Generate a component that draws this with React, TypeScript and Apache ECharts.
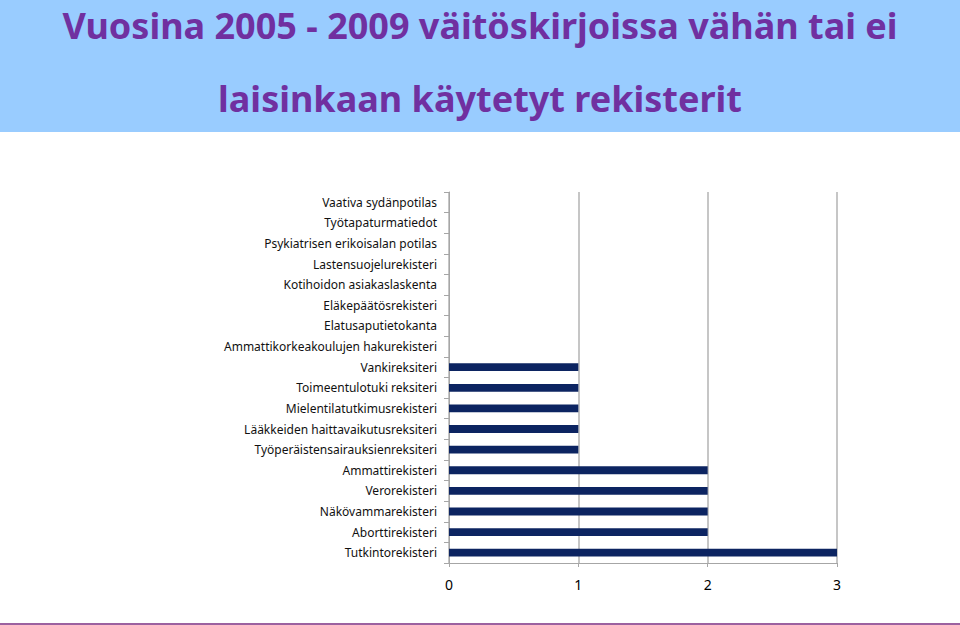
import React, { useEffect, useRef } from 'react';
import * as echarts from 'echarts';

// Categories listed top to bottom, as in the picture
const categories = [
    'Vaativa sydänpotilas',
    'Työtapaturmatiedot',
    'Psykiatrisen erikoisalan potilas',
    'Lastensuojelurekisteri',
    'Kotihoidon asiakaslaskenta',
    'Eläkepäätösrekisteri',
    'Elatusaputietokanta',
    'Ammattikorkeakoulujen hakurekisteri',
    'Vankireksiteri',
    'Toimeentulotuki reksiteri',
    'Mielentilatutkimusrekisteri',
    'Lääkkeiden haittavaikutusreksiteri',
    'Työperäistensairauksienreksiteri',
    'Ammattirekisteri',
    'Verorekisteri',
    'Näkövammarekisteri',
    'Aborttirekisteri',
    'Tutkintorekisteri'
];

const counts = [0, 0, 0, 0, 0, 0, 0, 0, 1, 1, 1, 1, 1, 2, 2, 2, 2, 3];

const titleLines = ['Vuosina 2005 - 2009 väitöskirjoissa vähän tai ei', 'laisinkaan käytetyt rekisterit'];

const App: React.FC = () => {
    const chartRef = useRef<HTMLDivElement>(null);

    useEffect(() => {
        if (!chartRef.current) return;
        const chart = echarts.init(chartRef.current, undefined, { renderer: 'svg' });

        const purple = '#7030A0';
        const titleStyle = {
            textAlign: 'center',
            textVerticalAlign: 'middle',
            fill: purple,
            fontFamily: 'Noto Sans',
            fontWeight: 'bold',
            fontSize: 36,
            lineHeight: 38
        };

        chart.setOption({
            animation: false,
            backgroundColor: '#ffffff',
            textStyle: { fontFamily: 'Noto Sans' },
            graphic: [
                {
                    type: 'rect',
                    shape: { x: 0, y: 0, width: 960, height: 132 },
                    style: { fill: '#99CCFF' },
                    z: -1
                },
                {
                    type: 'text',
                    x: 480,
                    y: 25,
                    style: { ...titleStyle, text: titleLines[0] }
                },
                {
                    type: 'text',
                    x: 480,
                    y: 98,
                    style: { ...titleStyle, text: titleLines[1] }
                },
                {
                    type: 'line',
                    shape: { x1: 0, y1: 624, x2: 960, y2: 624 },
                    style: { stroke: '#7B2D80', lineWidth: 1.5 }
                }
            ],
            grid: {
                left: 449,
                right: 123,
                top: 192,
                bottom: 62
            },
            xAxis: {
                type: 'value',
                min: 0,
                max: 3,
                interval: 1,
                axisLine: { show: true, lineStyle: { color: '#a6a6a6', width: 1 } },
                axisTick: { show: true, length: 4, lineStyle: { color: '#a6a6a6' } },
                axisLabel: { color: '#000', fontSize: 14, margin: 14 },
                splitLine: { show: true, lineStyle: { color: '#b3b3b3', width: 1.5 } }
            },
            yAxis: {
                type: 'category',
                inverse: true,
                data: categories,
                axisLine: { show: true, lineStyle: { color: '#a6a6a6', width: 1 } },
                axisTick: { show: true, length: 5, lineStyle: { color: '#a6a6a6' } },
                axisLabel: { color: '#111', fontSize: 12, margin: 12 }
            },
            series: [
                {
                    type: 'bar',
                    data: counts,
                    barWidth: '38%',
                    itemStyle: { color: '#0C2461' }
                }
            ]
        });

        return () => {
            chart.dispose();
        };
    }, []);

    return (
        <div
            ref={chartRef}
            style={{ position: 'fixed', left: 0, top: 0, width: 960, height: 625 }}
        />
    );
};

export default App;
